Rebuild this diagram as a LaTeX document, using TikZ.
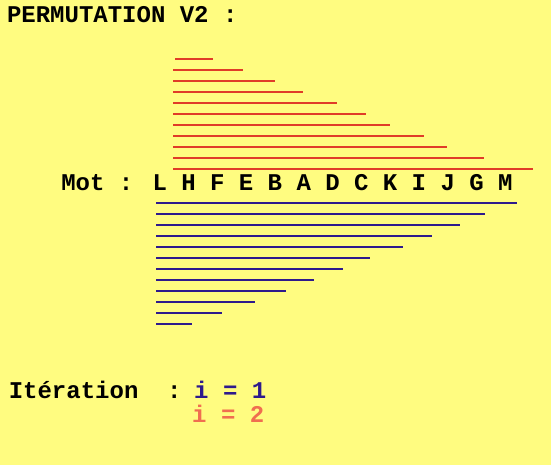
\documentclass[tikz,border=0pt]{standalone}
\usepackage{fontspec}
\newfontfamily\monob[BoldFont={Liberation Mono Bold}]{Liberation Mono}
\definecolor{bgyellow}{RGB}{255,252,128}
\definecolor{redline}{RGB}{224,60,40}
\definecolor{blueline}{RGB}{46,26,140}
\definecolor{salmon}{RGB}{240,110,80}
\begin{document}
\begin{tikzpicture}[x=1pt,y=-1pt,
  txt/.style={anchor=base west,inner sep=0pt,font=\monob\bfseries\fontsize{24}{24}\selectfont},
  rl/.style={draw=redline,line width=2pt},
  bl/.style={draw=blueline,line width=2.2pt}]
\fill[bgyellow] (0,0) rectangle (551,465);
\useasboundingbox (0,0) rectangle (551,465);
\node[txt] (title) at (6.8,22.5) {PERMUTATION V2 :};
% red lines
\foreach \xs/\xe [count=\i from 0] in {175/213.3,173/243.3,173/274.7,173/302.7,173/336.7,173/366,173/390.3,173/424,173/447.3,173/483.7,173/533.3}
  \draw[rl] (\xs,58.7+11*\i) -- (\xe,58.7+11*\i);
\node[txt] (mot) at (61.1,190) {Mot : L H F E B A D C K I J G M};
% blue lines
\foreach \xe [count=\i from 0] in {516.7,484.7,460,432.3,402.7,369.7,343,314.3,286,255,222.3,191.7}
  \draw[bl] (156,203.3+11*\i) -- (\xe,203.3+11*\i);
\node[txt] (iter) at (8.6,398) {Itération\ \ :};
\node[txt,text=blueline] (i1) at (194,398) {i = 1};
\node[txt,text=salmon] (i2) at (192,422) {i = 2};
\end{tikzpicture}
\end{document}
